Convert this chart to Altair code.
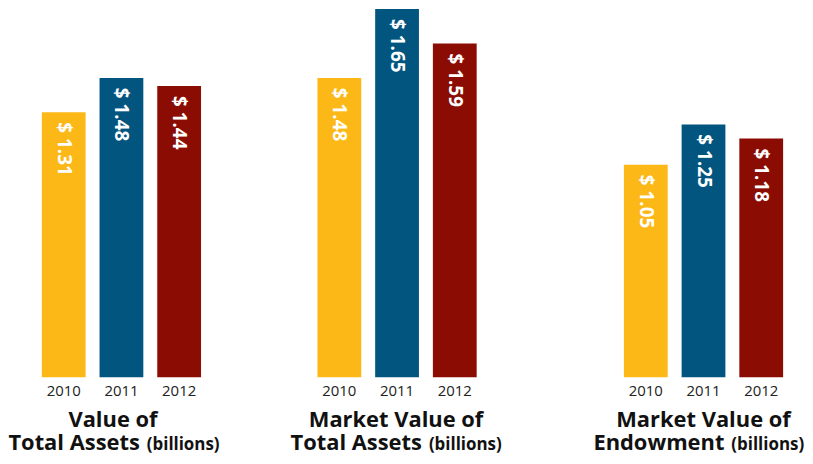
import altair as alt
import pandas as pd

years = ["2010", "2011", "2012"]
colors = ["#FBB817", "#02557F", "#8A0C02"]
# bar heights as drawn in the picture (billions)
heights_total_assets = [1.31, 1.48, 1.44]
heights_market_total = [1.48, 1.82, 1.65]
heights_endowment = [1.05, 1.25, 1.18]
# printed labels
labels_total_assets = ["$ 1.31", "$ 1.48", "$ 1.44"]
labels_market_total = ["$ 1.48", "$ 1.65", "$ 1.59"]
labels_endowment = ["$ 1.05", "$ 1.25", "$ 1.18"]
title_line1 = ["Value of", "Market Value of", "Market Value of"]
title_line2 = ["Total Assets", "Total Assets", "Endowment"]
unit_note = "(billions)"

FONT = "Open Sans"
H = 370
YMAX = 1.82


def panel(heights, labels, l1, l2, width, outer, x1, xsplit, anchor=False):
    df = pd.DataFrame({"year": years, "value": heights, "label": labels})
    x = alt.X(
        "year:N",
        sort=years,
        scale=alt.Scale(paddingInner=14 / 58, paddingOuter=outer, align=0),
        axis=alt.Axis(
            title=None, labelAngle=0, domain=False, ticks=False, labelPadding=6,
            labelFont=FONT, labelFontSize=15, labelColor="#222222",
        ),
    )
    y = alt.Y("value:Q", scale=alt.Scale(domain=[0, YMAX], nice=False, zero=True), axis=None)
    base = alt.Chart(df)
    bars = base.mark_bar().encode(
        x=x, y=y,
        color=alt.Color("year:N", scale=alt.Scale(domain=years, range=colors), legend=None),
    )
    txt = base.mark_text(
        angle=90, align="left", baseline="middle", dx=10,
        font=FONT, fontSize=19, fontWeight="bold", color="white",
    ).encode(x=x, y=y, text="label:N")
    tdf = pd.DataFrame({"l1": [l1], "l2": [l2], "u": [unit_note]})
    tb = alt.Chart(tdf)
    t1 = tb.mark_text(
        align="center", baseline="alphabetic", font=FONT, fontSize=22,
        fontWeight="bold", color="#111111",
    ).encode(x=alt.value(x1), y=alt.value(420), text="l1:N")
    t2 = tb.mark_text(
        align="right", baseline="alphabetic", font=FONT, fontSize=22,
        fontWeight="bold", color="#111111",
    ).encode(x=alt.value(xsplit - 3), y=alt.value(443), text="l2:N")
    t3 = tb.mark_text(
        align="left", baseline="alphabetic", font=FONT, fontSize=17,
        fontWeight="bold", color="#111111",
    ).encode(x=alt.value(xsplit + 4), y=alt.value(443), text="u:N")
    layers = [bars, txt, t1, t2, t3]
    if anchor:
        # invisible layout anchor fixing the left edge of the drawing
        layers.append(
            tb.mark_rule(opacity=0).encode(x=alt.value(-32), y=alt.value(0), y2=alt.value(10))
        )
    return alt.layer(*layers).properties(width=width, height=H)


p1 = panel(heights_total_assets, labels_total_assets, title_line1[0], title_line2[0], 160, 0, 71.5, 101.5, anchor=True)
p2 = panel(heights_market_total, labels_market_total, title_line1[1], title_line2[1], 191, 0.267, 79, 108)
p3 = panel(heights_endowment, labels_endowment, title_line1[2], title_line2[2], 160, 0, 80, 104)

chart = alt.hconcat(p1, p2, p3, spacing=117, bounds="flush").properties(
    padding={"left": 0, "top": 0, "right": 0, "bottom": 0},
).configure_view(strokeWidth=0)

chart.save("out.html", embed_options={"renderer": "svg", "actions": False})
